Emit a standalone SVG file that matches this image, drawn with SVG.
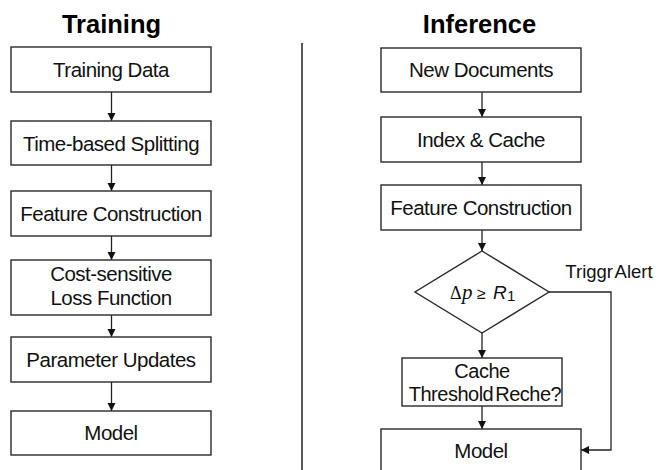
<svg xmlns="http://www.w3.org/2000/svg" width="656" height="470" viewBox="0 0 656 470">
<style>
.box{fill:#fff;stroke:#2a2a2a;stroke-width:1.4}
.t{font-family:"Liberation Sans",Arial,sans-serif;font-size:20.5px;letter-spacing:-0.5px;fill:#111;text-anchor:middle}
.h{font-family:"Liberation Sans",Arial,sans-serif;font-size:25.5px;font-weight:bold;fill:#000;text-anchor:middle}
.c{fill:none;stroke:#222;stroke-width:1.3}
.m{fill:#111}
</style>
<defs>
<marker id="ah" markerUnits="userSpaceOnUse" markerWidth="9" markerHeight="9" refX="8" refY="4" orient="auto">
<path d="M0,0 L8,4 L0,8 z" fill="#111"/>
</marker>
</defs>
<rect width="656" height="470" fill="#fff"/>
<text class="h" x="111.5" y="33">Training</text>
<text class="h" x="479.5" y="33">Inference</text>
<line x1="302" y1="43" x2="302" y2="470" stroke="#222" stroke-width="1.5"/>
<g id="connectors">
<line class="c" x1="111.5" y1="92" x2="111.5" y2="121" marker-end="url(#ah)"/>
<line class="c" x1="111.5" y1="165" x2="111.5" y2="191" marker-end="url(#ah)"/>
<line class="c" x1="111.5" y1="236" x2="111.5" y2="260" marker-end="url(#ah)"/>
<line class="c" x1="111.5" y1="315" x2="111.5" y2="337" marker-end="url(#ah)"/>
<line class="c" x1="111.5" y1="382" x2="111.5" y2="411" marker-end="url(#ah)"/>
<line class="c" x1="482" y1="92" x2="482" y2="117" marker-end="url(#ah)"/>
<line class="c" x1="482" y1="162" x2="482" y2="185" marker-end="url(#ah)"/>
<line class="c" x1="482" y1="230" x2="482" y2="251" marker-end="url(#ah)"/>
<line class="c" x1="482" y1="333" x2="482" y2="358" marker-end="url(#ah)"/>
<line class="c" x1="482" y1="406" x2="482" y2="429" marker-end="url(#ah)"/>
<polyline class="c" points="549,292 611,292 611,450 581,450" marker-end="url(#ah)"/>
<text class="t" x="609" y="278" style="font-size:18.5px;letter-spacing:0" word-spacing="-2.5">Triggr Alert</text>
</g>
<g id="n1"><rect class="box" x="11" y="47" width="200" height="45"/><text class="t" x="111" y="77">Training Data</text></g>
<g id="n2"><rect class="box" x="11" y="121" width="200" height="44"/><text class="t" x="111" y="150.5">Time-based Splitting</text></g>
<g id="n3"><rect class="box" x="11" y="191" width="200" height="45"/><text class="t" x="111" y="220.5">Feature Construction</text></g>
<g id="n4"><rect class="box" x="11" y="260" width="200" height="55"/><text class="t" x="111" y="280.5">Cost-sensitive</text><text class="t" x="111" y="304.5">Loss Function</text></g>
<g id="n5"><rect class="box" x="11" y="337" width="200" height="45"/><text class="t" x="111" y="366.5">Parameter Updates</text></g>
<g id="n6"><rect class="box" x="11" y="411" width="200" height="44"/><text class="t" x="111" y="440">Model</text></g>
<g id="m1"><rect class="box" x="381" y="48" width="200" height="44"/><text class="t" x="481" y="77">New Documents</text></g>
<g id="m2"><rect class="box" x="381" y="117" width="200" height="45"/><text class="t" x="481" y="147">Index &amp; Cache</text></g>
<g id="m3"><rect class="box" x="381" y="185" width="200" height="45"/><text class="t" x="481" y="214.5">Feature Construction</text></g>
<g id="m4"><polygon class="box" points="482,251 549,292 482,333 415,292"/>
<text class="m" x="450" y="299" font-family="Liberation Serif,serif" font-size="18">Δ</text>
<text class="m" x="462" y="299" font-family="Liberation Serif,serif" font-style="italic" font-size="21">p</text>
<text class="m" x="477" y="299" font-family="Liberation Sans,sans-serif" font-size="16">≥</text>
<text class="m" x="493" y="299" font-family="Liberation Sans,sans-serif" font-style="italic" font-size="19">R</text>
<text class="m" x="507" y="301" font-family="Liberation Sans,sans-serif" font-size="15">1</text></g>
<g id="m5"><rect class="box" x="402" y="358" width="160" height="48"/><text class="t" x="482" y="377.5" style="font-size:20px">Cache</text><text class="t" x="485" y="400.5" style="font-size:20px" word-spacing="-3">Threshold Reche?</text></g>
<g id="m6"><rect class="box" x="381" y="429" width="200" height="55"/><text class="t" x="481" y="458">Model</text></g>
</svg>
